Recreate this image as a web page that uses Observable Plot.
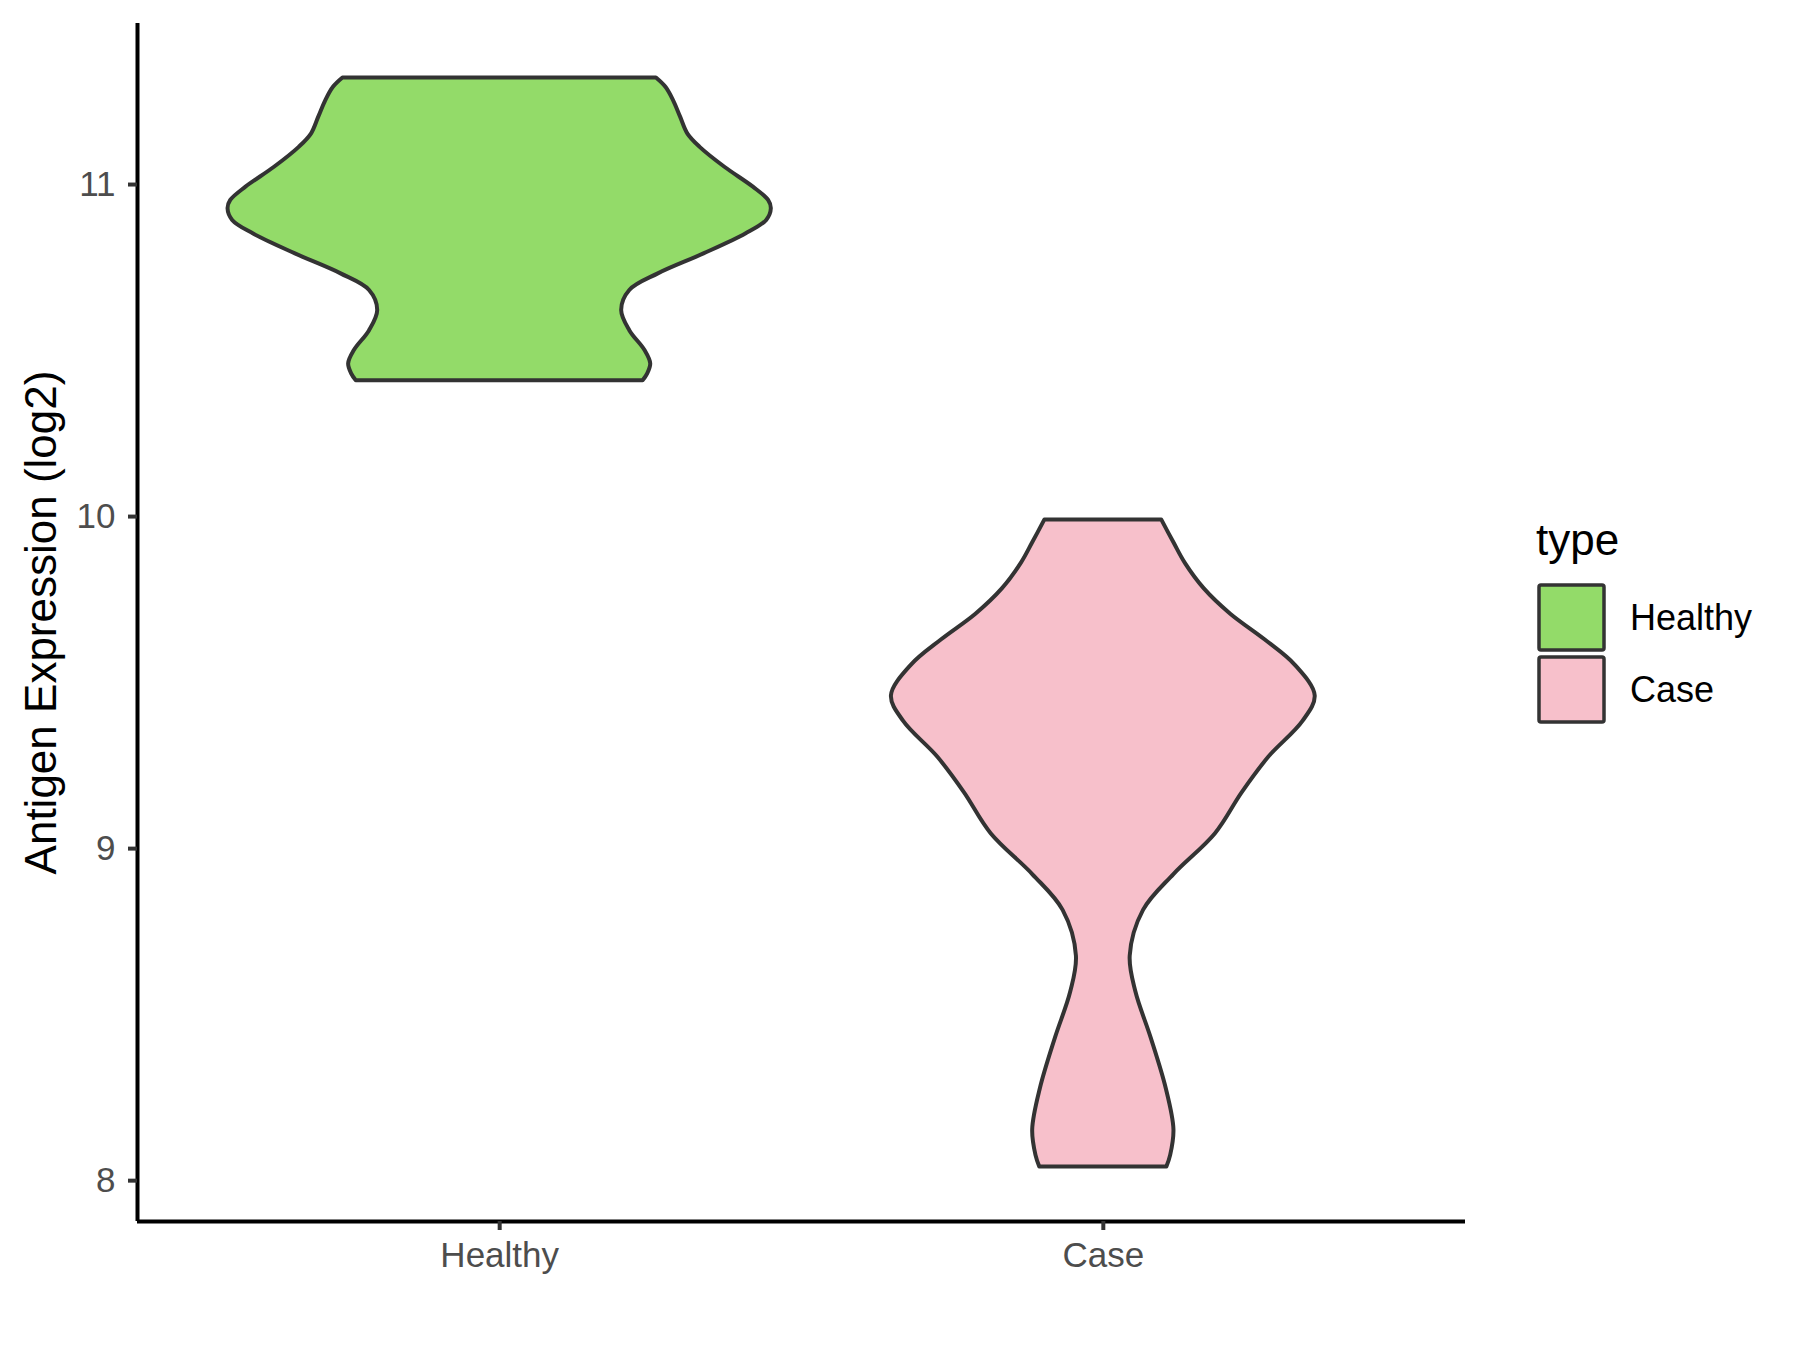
<!DOCTYPE html>
<html><head><meta charset="utf-8">
<script src="https://cdn.jsdelivr.net/npm/d3@7"></script>
<script src="https://cdn.jsdelivr.net/npm/@observablehq/plot@0.6"></script>
<style>
html,body{margin:0;padding:0;background:#fff;}
#wrap{position:relative;width:1800px;height:1350px;font-family:"Liberation Sans",Arial,sans-serif;}
</style></head><body><div id="wrap"></div>
<script>
const categories = ["Healthy", "Case"];
const colors = ["#93DB69", "#F7C0CB"];
const legendTitle = "type";
const yLabel = "Antigen Expression (log2)";
const yTicks = [8, 9, 10, 11];

// violin outline: value (log2) and relative half-width (1 = widest violin)
const healthyValues = [11.321, 11.293, 11.253, 11.203, 11.152, 11.112, 11.052, 10.992, 10.952, 10.927, 10.892, 10.851, 10.791, 10.731, 10.681, 10.621, 10.560, 10.500, 10.460, 10.430, 10.409];
const healthyWidths = [0.577, 0.612, 0.640, 0.666, 0.693, 0.738, 0.829, 0.934, 0.990, 1.000, 0.983, 0.906, 0.752, 0.584, 0.479, 0.449, 0.479, 0.535, 0.556, 0.545, 0.528];
const caseValues = [9.990, 9.921, 9.859, 9.783, 9.706, 9.629, 9.552, 9.460, 9.383, 9.275, 9.168, 9.045, 8.922, 8.814, 8.676, 8.568, 8.430, 8.276, 8.153, 8.076, 8.041];
const caseWidths = [0.215, 0.260, 0.302, 0.371, 0.469, 0.595, 0.707, 0.780, 0.735, 0.609, 0.511, 0.413, 0.260, 0.148, 0.099, 0.120, 0.176, 0.232, 0.260, 0.248, 0.234];

const maxHalf = 0.45;
const rows = [];
[[healthyValues, healthyWidths], [caseValues, caseWidths]].forEach(([vs, ws], i) => {
  vs.forEach((v, j) => rows.push({type: categories[i], pos: i + 1, v, w: ws[j] * maxHalf}));
});
const all = healthyValues.concat(caseValues);
const lo = d3.min(all), hi = d3.max(all), pad = (hi - lo) * 0.05;
const yDomain = [lo - pad, hi + pad];
const xDomain = [0.4, categories.length + 0.6];

const font = "'Liberation Sans', Arial, sans-serif";
const plot = Plot.plot({
  width: 1800, height: 1350,
  marginLeft: 137, marginRight: 335, marginTop: 23, marginBottom: 129,
  style: {fontFamily: font, background: "white", overflow: "visible"},
  x: {domain: xDomain, label: null},
  y: {domain: yDomain, label: null},
  color: {domain: categories, range: colors},
  marks: [
    Plot.areaX(rows, {y: "v", x1: d => d.pos - d.w, x2: d => d.pos + d.w, fill: "type", z: "type",
      stroke: "#333333", strokeWidth: 4, curve: "catmull-rom"}),
    Plot.ruleX([xDomain[0]], {stroke: "black", strokeWidth: 4}),
    Plot.ruleY([yDomain[0]], {stroke: "black", strokeWidth: 4}),
    Plot.axisY({ticks: yTicks, tickFormat: d3.format("d"), tickSize: 9, tickPadding: 13, fontSize: 35,
      stroke: "#333333", strokeWidth: 4, fill: "#4D4D4D", label: null}),
    Plot.axisX({ticks: categories.map((c, i) => i + 1), tickFormat: d => categories[d - 1], tickSize: 9, tickPadding: 12,
      fontSize: 35, stroke: "#333333", strokeWidth: 4, fill: "#4D4D4D", label: null}),
    Plot.text([yLabel], {frameAnchor: "left", textAnchor: "middle", rotate: -90, dx: -96, fontSize: 44, fill: "black"})
  ]
});
document.getElementById("wrap").appendChild(plot);

const leg = d3.select("#wrap").append("svg")
  .attr("width", 1800).attr("height", 1350)
  .style("position", "absolute").style("left", 0).style("top", 0)
  .attr("font-family", font);
leg.append("text").attr("x", 1536).attr("y", 555).attr("font-size", 44).attr("fill", "black").text(legendTitle);
categories.forEach((c, i) => {
  leg.append("rect").attr("x", 1539).attr("y", 585 + i * 72).attr("width", 65).attr("height", 65).attr("rx", 2)
    .attr("fill", colors[i]).attr("stroke", "#333333").attr("stroke-width", 3.5);
  leg.append("text").attr("x", 1630).attr("y", 630 + i * 72).attr("font-size", 36).attr("fill", "black").text(c);
});
</script></body></html>
